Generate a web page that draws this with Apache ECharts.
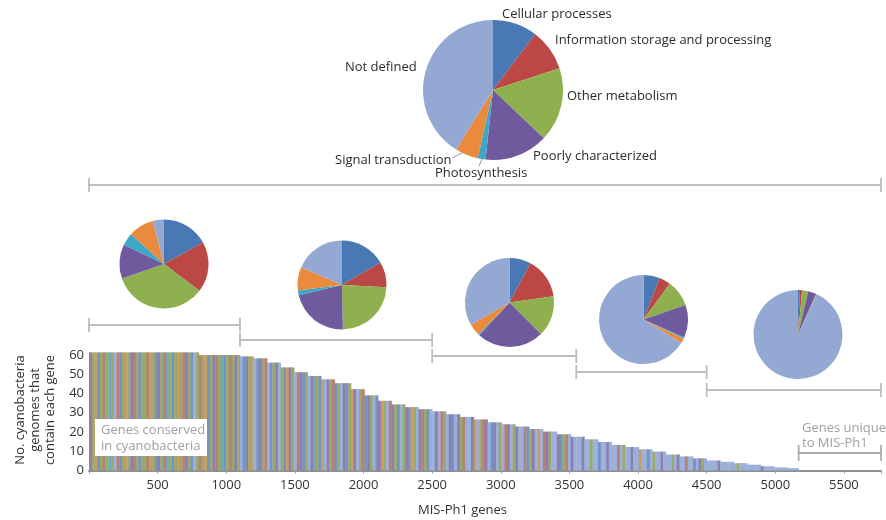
<!DOCTYPE html>
<html>
<head>
<meta charset="utf-8">
<script src="https://cdn.jsdelivr.net/npm/echarts@6/dist/echarts.min.js"></script>
<style>html,body{margin:0;padding:0;background:#fff}#c{width:886px;height:520px}</style>
</head>
<body>
<div id="c"></div>
<script>
// ---------------- DATA ----------------
const categories = ['Cellular processes', 'Information storage and processing', 'Other metabolism',
  'Poorly characterized', 'Photosynthesis', 'Signal transduction', 'Not defined'];
// percent of genes per functional category (clockwise from 12 o'clock)
const allGenesShares = [10.3, 9.7, 17.1, 14.6, 1.8, 5.3, 41.2];
const group1Shares = [17.0, 18.3, 34.4, 12.4, 4.6, 9.2, 4.1];
const group2Shares = [16.6, 9.2, 23.9, 21.6, 1.7, 8.5, 18.5];
const group3Shares = [7.8, 15.0, 14.7, 24.4, 0.4, 4.4, 33.3];
const group4Shares = [5.9, 4.2, 9.6, 11.9, 0.5, 1.8, 66.1];
const group5Shares = [0.7, 0.8, 2.2, 3.0, 0.1, 0.2, 93.0];
const groupShares = [group1Shares, group2Shares, group3Shares, group4Shares, group5Shares];

// gene ranges (MIS-Ph1 gene rank) of the groups
const allRange = [0, 5770];
const groupRanges = [[0, 1100], [1100, 2500], [2500, 3550], [3550, 4500], [4500, 5770]];
const uniqueRange = [5170, 5770];

// number of cyanobacteria genomes containing each gene, per 100-gene bin
const heightBin = 100;
const genomeCounts = [61.3, 61.3, 61.3, 61.3, 61.3, 61.3, 61.3, 61.3, 59.9, 59.9,
  59.9, 59.2, 58.2, 56.0, 53.5, 51.0, 49.0, 47.3, 45.3, 42.2,
  39.0, 36.2, 34.3, 32.9, 31.8, 30.7, 29.2, 27.8, 26.5, 25.0,
  24.0, 22.8, 21.5, 20.2, 18.8, 17.5, 16.2, 14.8, 13.3, 12.2,
  11.0, 9.8, 8.3, 7.3, 6.3, 5.2, 4.5, 3.8, 3.0, 2.2,
  1.6, 1.2];

// functional category of the gene stripes (B,R,G,P,C,O,N) in each range
const stripeRanges = [[0, 1100], [1100, 2500], [2500, 3550], [3550, 4500], [4500, 5170]];
const stripeCodes = [
  'PGOBGRGCGNRBGOGPRGBGGROGBPGRCGBGOGRPGBNGRGOBGPRGCBGRGPG',
  'NBPGONBPGRNBGPNGBOPGNRPBGNPCGBONPGRBGNPBGOPNGRBPGNBPOGNRPGBNGPBOGNPRGBN',
  'NPNRGNPBNPGRNNPONGRPNBPNGNRPNGPNNRBGPNONRPGNNPBGRNPN',
  'NNPNNGNNBNNPNNNRNGNNPNNONNBNGNNPNNNGNPNNRNNBNPGN',
  'NNNNPNNNNNNGNNNNNNNNPNNNNNNNNNNNNN'
];

const xMax = 5770, xInterval = 500;
const yMax = 62, yInterval = 10;

// ---------------- STYLE / LAYOUT ----------------
const pieColors = ['#4a78b4', '#bb4845', '#8fb04f', '#6f5a9e', '#3ea6c6', '#ea8a3c', '#93a9d4'];
const stripeColors = ['#7592c4', '#b77f78', '#98a96a', '#8b7fb0', '#72a9b8', '#c99a62', '#9bb0d8'];
const codeIndex = {B: 0, R: 1, G: 2, P: 3, C: 4, O: 5, N: 6};
const FONT = '"Open Sans", "Noto Sans", sans-serif';
const topPieCenter = [493, 90], topPieRadius = 70;
const smallPieCenters = [[164, 264], [342, 285], [509.5, 302.5], [643.5, 319.5], [798, 334.5]];
const smallPieRadius = 44.5;
const topLabelPos = [[502, 14], [555, 40], [567, 96], [533, 156], [435, 173], [335, 160], [345, 67]];
const topLabelLines = {4: [[479, 166], [482, 159], [482, 159]], 5: [[452, 158], [466, 151], [466, 151]]};
const bracketY = [185, 325, 340, 356, 372, 390, 453];
const bracketHalf = [7, 7, 7, 7, 7, 7, 8];

// ---------------- BUILD ----------------
const stripes = [];
stripeRanges.forEach(([s, e], k) => {
  const codes = stripeCodes[k];
  const w = (e - s) / codes.length;
  for (let i = 0; i < codes.length; i++) {
    const a = s + i * w, b = a + w;
    const bin = Math.min(genomeCounts.length - 1, Math.floor(((a + b) / 2) / heightBin));
    stripes.push([a, b, genomeCounts[bin], codeIndex[codes[i]]]);
  }
});

const brackets = [[allRange[0], allRange[1], 0]];
groupRanges.forEach((r, i) => brackets.push([r[0], r[1], i + 1]));
brackets.push([uniqueRange[0], uniqueRange[1], 6]);

function pieData(shares, withLines) {
  return shares.map((v, i) => ({
    value: v, name: categories[i],
    itemStyle: {color: pieColors[i]},
    labelLine: {show: withLines && topLabelLines[i] !== undefined}
  }));
}

const series = [];
series.push({
  type: 'custom', xAxisIndex: 0, yAxisIndex: 0, silent: true, z: 2,
  encode: {x: [0, 1], y: 2},
  data: stripes,
  renderItem: function (params, api) {
    const p0 = api.coord([api.value(0), api.value(2)]);
    const p1 = api.coord([api.value(1), 0]);
    return {
      type: 'rect',
      shape: {x: p0[0], y: p0[1], width: p1[0] - p0[0] + 0.35, height: p1[1] - p0[1]},
      style: {fill: stripeColors[api.value(3)]}
    };
  }
});
series.push({
  type: 'custom', xAxisIndex: 1, yAxisIndex: 1, silent: true, z: 3,
  encode: {x: [0, 1]},
  data: brackets,
  renderItem: function (params, api) {
    const lvl = api.value(2);
    const y = bracketY[lvl], h = bracketHalf[lvl];
    const a = api.coord([api.value(0), y]);
    const b = api.coord([api.value(1), y]);
    const st = {stroke: lvl === 6 ? '#ababab' : '#bdbdbd', lineWidth: 1.8};
    return {
      type: 'group',
      children: [
        {type: 'line', shape: {x1: a[0], y1: y, x2: b[0], y2: y}, style: st},
        {type: 'line', shape: {x1: a[0], y1: y - h, x2: a[0], y2: y + h}, style: st},
        {type: 'line', shape: {x1: b[0], y1: y - h, x2: b[0], y2: y + h}, style: st}
      ]
    };
  }
});
series.push({
  type: 'pie', silent: true, center: topPieCenter, radius: topPieRadius,
  startAngle: 90, clockwise: true, avoidLabelOverlap: false,
  data: pieData(allGenesShares, true),
  label: {show: true, position: 'outside', color: '#2b2b2b', fontSize: 13, fontFamily: FONT},
  labelLine: {lineStyle: {color: '#9a9a9a', width: 1}, length: 5, length2: 5},
  labelLayout: function (p) {
    const pos = topLabelPos[p.dataIndex];
    const o = {x: pos[0], y: pos[1], align: 'left', verticalAlign: 'middle'};
    if (topLabelLines[p.dataIndex]) o.labelLinePoints = topLabelLines[p.dataIndex];
    return o;
  }
});
groupShares.forEach((sh, i) => {
  series.push({
    type: 'pie', silent: true, center: smallPieCenters[i], radius: smallPieRadius,
    startAngle: 90, clockwise: true, label: {show: false}, labelLine: {show: false},
    data: pieData(sh, false)
  });
});

const option = {
  animation: false,
  backgroundColor: '#fff',
  grid: [
    {left: 89, width: 792, top: 351, bottom: 49.5, containLabel: false},
    {left: 89, width: 792, top: 0, height: 520, containLabel: false}
  ],
  xAxis: [
    {
      type: 'value', gridIndex: 0, min: 0, max: xMax, interval: xInterval,
      axisLine: {show: true, lineStyle: {color: '#8f8f8f', width: 2}},
      axisTick: {show: true, length: 3, lineStyle: {color: '#999'}},
      splitLine: {show: false},
      axisLabel: {
        color: '#333', fontSize: 13, fontFamily: FONT, margin: 8,
        formatter: v => (v === 0 || v % xInterval !== 0) ? '' : String(v)
      }
    },
    {type: 'value', gridIndex: 1, min: 0, max: xMax, show: false}
  ],
  yAxis: [
    {
      type: 'value', gridIndex: 0, min: 0, max: yMax, interval: yInterval,
      axisLine: {show: false}, axisTick: {show: false}, splitLine: {show: false},
      axisLabel: {
        color: '#333', fontSize: 13, fontFamily: FONT, margin: 5,
        formatter: v => (v % yInterval !== 0) ? '' : String(v)
      }
    },
    {type: 'value', gridIndex: 1, min: 0, max: 520, inverse: true, show: false}
  ],
  graphic: [
    {type: 'rect', z: 100, shape: {x: 95, y: 419, width: 112, height: 37}, style: {fill: '#fff'}},
    {type: 'text', z: 101, x: 101, y: 438,
      style: {text: 'Genes conserved\nin cyanobacteria', fill: '#9f9f9f', fontSize: 13, fontFamily: FONT,
        lineHeight: 16, textAlign: 'left', textVerticalAlign: 'middle', align: 'left', verticalAlign: 'middle'}},
    {type: 'text', z: 101, x: 802, y: 435.5,
      style: {text: 'Genes unique\nto MIS-Ph1', fill: '#a0a0a0', fontSize: 13, fontFamily: FONT,
        lineHeight: 15, textAlign: 'left', textVerticalAlign: 'middle', align: 'left', verticalAlign: 'middle'}},
    {type: 'text', z: 101, x: 418, y: 510,
      style: {text: 'MIS-Ph1 genes', fill: '#333', fontSize: 13, fontFamily: FONT,
        textAlign: 'left', textVerticalAlign: 'middle', align: 'left', verticalAlign: 'middle'}},
    {type: 'text', z: 101, x: 35.5, y: 410, rotation: Math.PI / 2,
      style: {text: 'No. cyanobacteria\ngenomes that\ncontain each gene', fill: '#333', fontSize: 13, fontFamily: FONT,
        lineHeight: 15, textAlign: 'center', textVerticalAlign: 'middle', align: 'center', verticalAlign: 'middle'}}
  ],
  series: series
};

const chart = echarts.init(document.getElementById('c'), null, {renderer: 'canvas'});
chart.setOption(option);
</script>
</body>
</html>
